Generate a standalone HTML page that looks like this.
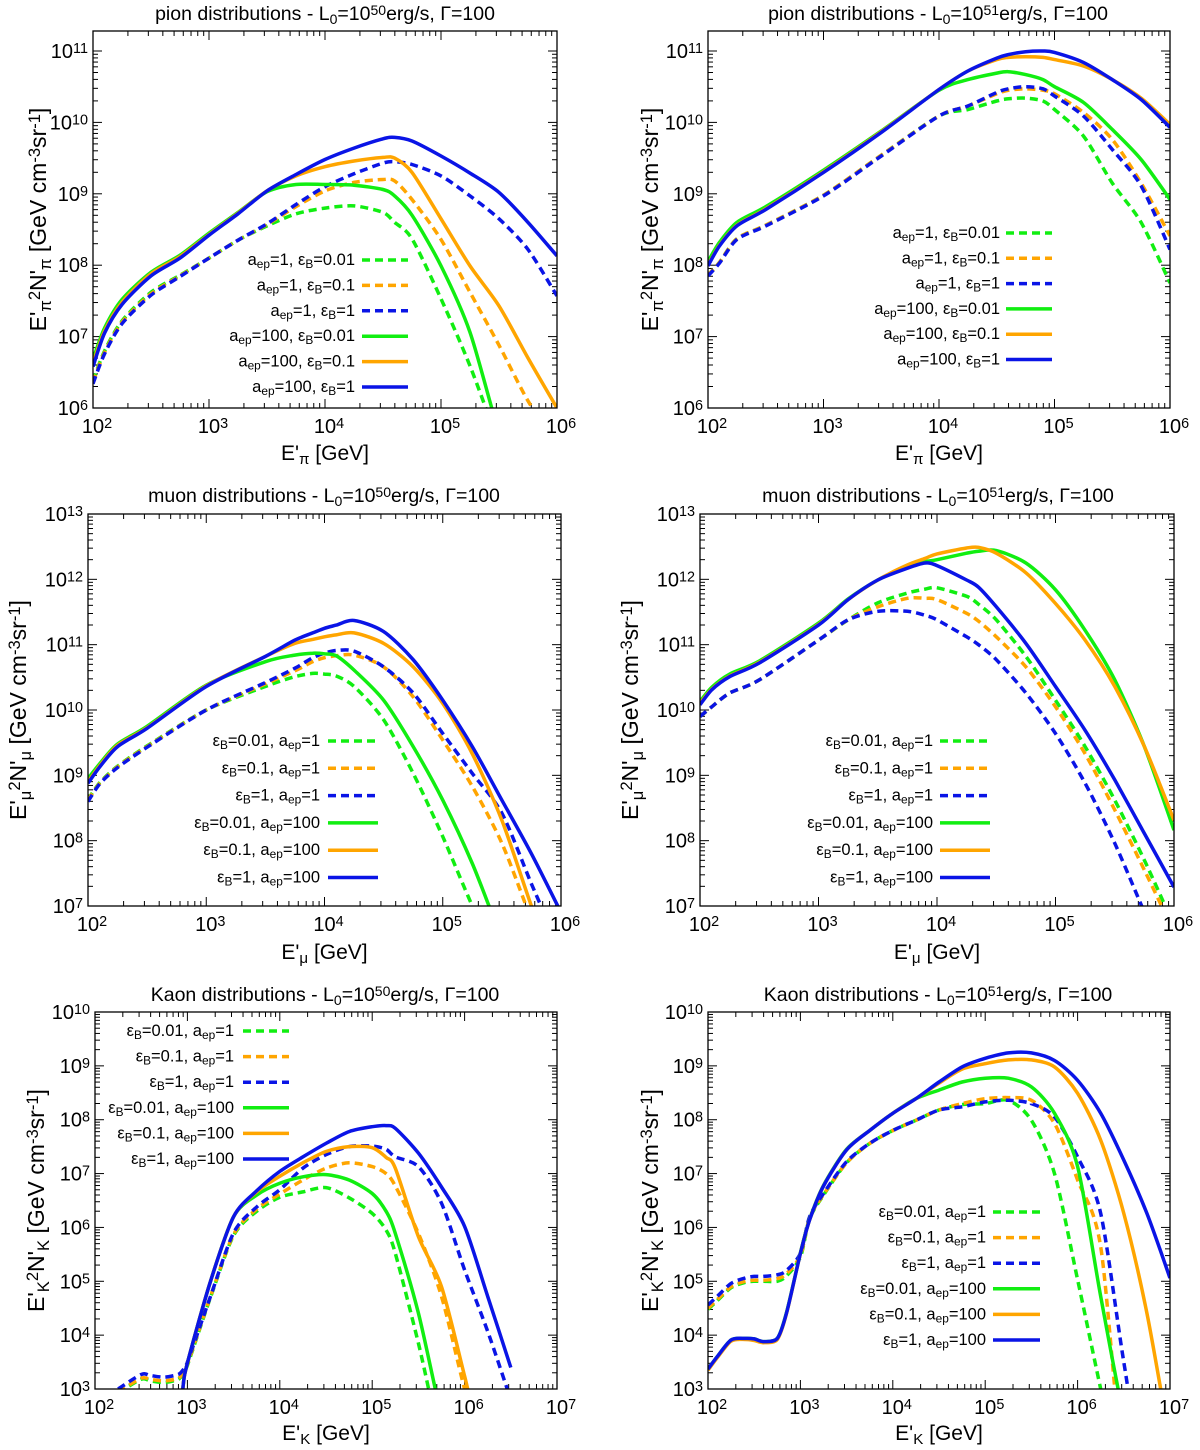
<!DOCTYPE html>
<html><head><meta charset="utf-8"><title>Pion, muon and kaon distributions</title>
<style>
html,body{margin:0;padding:0;background:#fff;}
svg{display:block;font-family:"Liberation Sans","DejaVu Sans",sans-serif;}
</style></head>
<body>
<svg id="fig" width="1200" height="1450" viewBox="0 0 1200 1450" xmlns="http://www.w3.org/2000/svg"></svg>
<script>
// ---------- DATA (log10 E, log10 of E^2 N) ----------
const pion50_x = [2,2.1,2.25,2.5,2.75,3,3.25,3.5,3.75,4,4.25,4.5,4.6,4.75,5,5.25,5.5,5.75,6];
const pion50_dGreen = [6.38,6.8,7.22,7.62,7.86,8.1,8.35,8.55,8.72,8.8,8.83,8.74,8.6,8.37,7.53,6.59,5.5,4.5,3.5];
const pion50_dOrange = [6.36,6.78,7.2,7.6,7.85,8.1,8.35,8.57,8.82,9.04,9.16,9.2,9.18,8.92,8.36,7.62,6.88,6.1,5.5];
const pion50_dBlue = [6.34,6.76,7.18,7.58,7.84,8.1,8.35,8.58,8.85,9.1,9.28,9.43,9.45,9.41,9.25,8.97,8.65,8.22,7.57];
const pion50_sGreen = [6.68,7.12,7.52,7.9,8.14,8.45,8.74,9.03,9.13,9.13,9.12,9.06,8.97,8.7,7.99,7.06,5.65,4.5,3.5];
const pion50_sOrange = [6.62,7.08,7.48,7.88,8.12,8.43,8.73,9.04,9.25,9.38,9.46,9.51,9.5,9.3,8.65,7.99,7.43,6.7,6.0];
const pion50_sBlue = [6.58,7.05,7.45,7.85,8.1,8.42,8.72,9.04,9.27,9.48,9.64,9.77,9.79,9.74,9.53,9.29,9.02,8.6,8.13];

const pion51_x = [2,2.1,2.25,2.5,3,3.5,4,4.25,4.5,4.6,4.75,4.9,5,5.25,5.5,5.75,6];
const pion51_dGreen = [7.86,8.04,8.37,8.56,8.98,9.54,10.09,10.18,10.3,10.33,10.34,10.3,10.18,9.81,9.15,8.6,7.75];
const pion51_dOrange = [7.86,8.04,8.37,8.56,8.98,9.54,10.09,10.23,10.4,10.45,10.47,10.45,10.4,10.14,9.76,9.15,8.41];
const pion51_dBlue = [7.85,8.03,8.36,8.55,8.97,9.53,10.09,10.23,10.42,10.47,10.5,10.47,10.37,10.09,9.62,9.11,8.22];
const pion51_sGreen = [8.05,8.32,8.6,8.82,9.33,9.88,10.45,10.6,10.69,10.71,10.67,10.6,10.5,10.28,9.9,9.48,8.92];
const pion51_sOrange = [8.0,8.28,8.56,8.79,9.31,9.87,10.46,10.72,10.88,10.91,10.92,10.91,10.88,10.79,10.6,10.34,9.97];
const pion51_sBlue = [7.99,8.27,8.55,8.78,9.3,9.86,10.46,10.72,10.9,10.95,10.99,11.0,10.98,10.84,10.6,10.32,9.93];

const muon50_x = [2,2.1,2.25,2.5,3,3.5,3.75,3.9,4,4.1,4.25,4.5,4.75,5,5.25,5.5,5.75,6];
const muon50_dGreen = [8.63,8.89,9.14,9.45,10.0,10.36,10.51,10.56,10.55,10.52,10.36,9.85,9.03,8.06,7.0,6.0,5.0,4.0];
const muon50_dOrange = [8.62,8.88,9.13,9.44,10.0,10.4,10.6,10.74,10.8,10.83,10.84,10.66,10.2,9.54,8.83,7.96,6.8,5.8];
const muon50_dBlue = [8.6,8.87,9.12,9.43,10.0,10.42,10.64,10.8,10.87,10.91,10.9,10.66,10.26,9.64,9.03,8.42,7.34,6.3];
const muon50_sGreen = [8.95,9.18,9.48,9.75,10.38,10.74,10.84,10.87,10.86,10.83,10.61,10.15,9.44,8.62,7.65,6.5,5.5,4.5];
const muon50_sOrange = [8.9,9.15,9.46,9.73,10.37,10.82,11.02,11.08,11.12,11.15,11.18,11.02,10.66,10.1,9.33,8.31,7.0,5.8];
const muon50_sBlue = [8.88,9.13,9.44,9.72,10.36,10.82,11.07,11.18,11.25,11.3,11.37,11.2,10.77,10.15,9.44,8.62,7.8,6.9];

const muon51_x = [2,2.1,2.25,2.5,3,3.25,3.5,3.75,3.9,4,4.25,4.35,4.5,4.75,5,5.25,5.5,5.75,6];
const muon51_dGreen = [9.9,10.05,10.26,10.46,11.07,11.38,11.64,11.79,11.85,11.87,11.74,11.62,11.38,10.82,10.15,9.44,8.62,7.7,6.7];
const muon51_dOrange = [9.9,10.05,10.26,10.46,11.07,11.38,11.58,11.71,11.71,11.69,11.48,11.36,11.12,10.66,10.05,9.33,8.47,7.55,6.6];
const muon51_dBlue = [9.9,10.05,10.26,10.46,11.07,11.38,11.51,11.51,11.45,11.38,11.12,11.0,10.77,10.26,9.64,8.88,7.96,6.9,5.8];
const muon51_sGreen = [10.13,10.35,10.55,10.75,11.33,11.7,11.99,12.2,12.27,12.3,12.4,12.43,12.44,12.25,11.84,11.22,10.46,9.44,8.16];
const muon51_sOrange = [10.1,10.32,10.52,10.73,11.31,11.69,11.99,12.22,12.32,12.39,12.48,12.49,12.4,12.1,11.63,11.07,10.36,9.44,8.31];
const muon51_sBlue = [10.08,10.31,10.51,10.72,11.3,11.69,11.99,12.17,12.25,12.21,11.99,11.88,11.58,11.02,10.36,9.69,8.93,8.11,7.29];

const kaon50_x = [2.25,2.5,2.6,2.75,2.9,2.95,3,3.25,3.5,3.75,4,4.25,4.5,4.75,5,5.15,5.25,5.5,5.75,6,6.25,6.5];
const kaon50_dGreen = [2.93,3.18,3.15,3.12,3.18,3.28,3.44,4.7,5.85,6.3,6.56,6.66,6.74,6.55,6.26,5.95,5.52,3.85,2,1,1,1];
const kaon50_dOrange = [2.95,3.2,3.18,3.15,3.2,3.3,3.46,4.72,5.87,6.34,6.62,6.88,7.1,7.2,7.13,7.0,6.77,5.89,4.72,3.0,1.5,1];
const kaon50_dBlue = [3.0,3.27,3.25,3.22,3.27,3.35,3.5,4.72,5.9,6.38,6.7,7.1,7.35,7.5,7.51,7.45,7.31,7.13,6.45,5.21,4.07,2.8];
const kaon50_sGreen = [2,2,2,2,2,3.0,3.48,5.0,6.2,6.6,6.82,6.94,6.98,6.88,6.63,6.3,5.89,4.41,2.5,1,1,1];
const kaon50_sOrange = [2,2,2,2,2,3.0,3.48,5.0,6.2,6.66,6.95,7.2,7.41,7.5,7.48,7.3,7.1,5.83,4.9,3.24,1.5,1];
const kaon50_sBlue = [2,2,2,2,2,3.0,3.48,5.0,6.2,6.68,7.04,7.31,7.56,7.78,7.87,7.89,7.84,7.38,6.75,6.02,4.72,3.4];

const kaon51_x = [2,2.1,2.25,2.4,2.5,2.6,2.75,2.85,3,3.1,3.25,3.5,3.75,4,4.25,4.5,4.75,5,5.25,5.5,5.75,6,6.25,6.5,6.75,7];
const kaon51_dGreen = [4.48,4.64,4.88,4.98,5.0,5.0,5.0,5.1,5.45,6.16,6.6,7.2,7.56,7.8,7.99,8.18,8.28,8.3,8.36,7.99,7.0,5.03,3.0,1,1,1];
const kaon51_dOrange = [4.5,4.66,4.9,5.0,5.02,5.02,5.05,5.14,5.48,6.18,6.61,7.2,7.56,7.8,7.99,8.18,8.3,8.39,8.41,8.36,7.93,6.88,5.64,1.5,1,1];
const kaon51_dBlue = [4.56,4.72,4.96,5.06,5.09,5.09,5.12,5.2,5.52,6.2,6.63,7.22,7.56,7.8,7.99,8.18,8.24,8.33,8.36,8.3,8.05,7.31,6.26,3.5,1,1];
const kaon51_sGreen = [3.37,3.6,3.91,3.94,3.93,3.88,3.94,4.42,5.53,6.15,6.78,7.45,7.8,8.12,8.39,8.55,8.7,8.77,8.77,8.61,8.12,7.13,4.72,2.5,1,1];
const kaon51_sOrange = [3.35,3.58,3.89,3.92,3.9,3.86,3.92,4.4,5.52,6.14,6.77,7.44,7.8,8.12,8.39,8.68,8.94,9.04,9.11,9.11,8.98,8.49,7.62,6.26,4.41,2.0];
const kaon51_sBlue = [3.37,3.6,3.91,3.94,3.93,3.88,3.94,4.41,5.52,6.14,6.77,7.44,7.8,8.12,8.39,8.7,8.98,9.14,9.24,9.24,9.1,8.73,8.12,7.25,6.26,5.06];

const legendPion = ["a_{ep}=1, ε_{B}=0.01","a_{ep}=1, ε_{B}=0.1","a_{ep}=1, ε_{B}=1","a_{ep}=100, ε_{B}=0.01","a_{ep}=100, ε_{B}=0.1","a_{ep}=100, ε_{B}=1"];
const legendOther = ["ε_{B}=0.01, a_{ep}=1","ε_{B}=0.1, a_{ep}=1","ε_{B}=1, a_{ep}=1","ε_{B}=0.01, a_{ep}=100","ε_{B}=0.1, a_{ep}=100","ε_{B}=1, a_{ep}=100"];

// ---------- STYLE / LAYOUT ----------
const COLORS = ["#11ee11","#ffa500","#0a14e6","#11ee11","#ffa500","#0a14e6"];
const DASHED = [true,true,true,false,false,false];
const NS = "http://www.w3.org/2000/svg";
const svg = document.getElementById('fig');

const panels = [
 {id:'pion-1e50', L:93,R:557,T:31,B:408, xmin:2,xmax:6, ymin:6,ymax:11.28, title:"pion distributions - L_{0}=10^{50}erg/s, Γ=100", tx:325,ty:20,
  xl:"E'_{π} [GeV]", xly:460, yl:"E'_{π}^{2}N'_{π} [GeV cm^{-3}sr^{-1}]", ylx:38,
  x:pion50_x, s:[pion50_dGreen,pion50_dOrange,pion50_dBlue,pion50_sGreen,pion50_sOrange,pion50_sBlue],
  leg:legendPion, legTx:355, legL0:362, legL1:408, legY:260, legDy:25.4},
 {id:'pion-1e51', L:708,R:1170,T:31,B:408, xmin:2,xmax:6, ymin:6,ymax:11.28, title:"pion distributions - L_{0}=10^{51}erg/s, Γ=100", tx:938,ty:20,
  xl:"E'_{π} [GeV]", xly:460, yl:"E'_{π}^{2}N'_{π} [GeV cm^{-3}sr^{-1}]", ylx:650,
  x:pion51_x, s:[pion51_dGreen,pion51_dOrange,pion51_dBlue,pion51_sGreen,pion51_sOrange,pion51_sBlue],
  leg:legendPion, legTx:1000, legL0:1006, legL1:1052, legY:233, legDy:25.3},
 {id:'muon-1e50', L:88,R:561,T:514,B:906, xmin:2,xmax:6, ymin:7,ymax:13, title:"muon distributions - L_{0}=10^{50}erg/s, Γ=100", tx:324,ty:502,
  xl:"E'_{μ} [GeV]", xly:959, yl:"E'_{μ}^{2}N'_{μ} [GeV cm^{-3}sr^{-1}]", ylx:18,
  x:muon50_x, s:[muon50_dGreen,muon50_dOrange,muon50_dBlue,muon50_sGreen,muon50_sOrange,muon50_sBlue],
  leg:legendOther, legTx:320, legL0:328, legL1:378, legY:741, legDy:27.3},
 {id:'muon-1e51', L:700,R:1174,T:514,B:906, xmin:2,xmax:6, ymin:7,ymax:13, title:"muon distributions - L_{0}=10^{51}erg/s, Γ=100", tx:938,ty:502,
  xl:"E'_{μ} [GeV]", xly:959, yl:"E'_{μ}^{2}N'_{μ} [GeV cm^{-3}sr^{-1}]", ylx:630,
  x:muon51_x, s:[muon51_dGreen,muon51_dOrange,muon51_dBlue,muon51_sGreen,muon51_sOrange,muon51_sBlue],
  leg:legendOther, legTx:933, legL0:940, legL1:990, legY:741, legDy:27.3},
 {id:'kaon-1e50', L:95,R:557,T:1012,B:1389, xmin:2,xmax:7, ymin:3,ymax:10, title:"Kaon distributions - L_{0}=10^{50}erg/s, Γ=100", tx:325,ty:1001,
  xl:"E'_{K} [GeV]", xly:1440, yl:"E'_{K}^{2}N'_{K} [GeV cm^{-3}sr^{-1}]", ylx:36,
  x:kaon50_x, s:[kaon50_dGreen,kaon50_dOrange,kaon50_dBlue,kaon50_sGreen,kaon50_sOrange,kaon50_sBlue],
  leg:legendOther, legTx:234, legL0:243, legL1:289, legY:1031, legDy:25.6},
 {id:'kaon-1e51', L:708,R:1170,T:1012,B:1389, xmin:2,xmax:7, ymin:3,ymax:10, title:"Kaon distributions - L_{0}=10^{51}erg/s, Γ=100", tx:938,ty:1001,
  xl:"E'_{K} [GeV]", xly:1440, yl:"E'_{K}^{2}N'_{K} [GeV cm^{-3}sr^{-1}]", ylx:650,
  x:kaon51_x, s:[kaon51_dGreen,kaon51_dOrange,kaon51_dBlue,kaon51_sGreen,kaon51_sOrange,kaon51_sBlue],
  leg:legendOther, legTx:986, legL0:993, legL1:1040, legY:1212, legDy:25.6}
];

function el(tag, attrs, parent){
  const e = document.createElementNS(NS, tag);
  for (const k in attrs) e.setAttribute(k, attrs[k]);
  if (parent) parent.appendChild(e);
  return e;
}
function rich(textEl, s){
  const re = /([_^])\{([^}]*)\}/g;
  let last = 0, m;
  while ((m = re.exec(s)) !== null){
    if (m.index > last){ const t = el('tspan', {}, textEl); t.textContent = s.slice(last, m.index); }
    const t = el('tspan', {'baseline-shift': m[1] === '_' ? '-28%' : '38%', 'font-size':'72%'}, textEl);
    t.textContent = m[2];
    const r = el('tspan', {'baseline-shift':'0'}, textEl); r.textContent = '\u200b';
    last = re.lastIndex;
  }
  if (last < s.length){ const t = el('tspan', {}, textEl); t.textContent = s.slice(last); }
}
function smoothPath(P){
  let d = 'M' + P[0][0].toFixed(1) + ',' + P[0][1].toFixed(1);
  for (let i = 0; i < P.length - 1; i++){
    const p0 = P[Math.max(0, i-1)], p1 = P[i], p2 = P[i+1], p3 = P[Math.min(P.length-1, i+2)];
    const t = 0.14;
    const c1x = p1[0] + (p2[0]-p0[0])*t, c1y = p1[1] + (p2[1]-p0[1])*t;
    const c2x = p2[0] - (p3[0]-p1[0])*t, c2y = p2[1] - (p3[1]-p1[1])*t;
    d += ' C' + c1x.toFixed(1) + ',' + c1y.toFixed(1) + ' ' + c2x.toFixed(1) + ',' + c2y.toFixed(1) + ' ' + p2[0].toFixed(1) + ',' + p2[1].toFixed(1);
  }
  return d;
}

panels.forEach((p, pi) => {
  const g = el('g', {}, svg);
  
  
  const sx = v => p.L + (v - p.xmin) / (p.xmax - p.xmin) * (p.R - p.L);
  const sy = v => p.B - (v - p.ymin) / (p.ymax - p.ymin) * (p.B - p.T);

  const tt = el('text', {x:p.tx, y:p.ty, 'text-anchor':'middle', 'font-size':19.5, fill:'#000'}, g);
  
  
  rich(tt, p.title);

  const cp = el('clipPath', {id:'clip'+pi}, g);
  el('rect', {x:p.L, y:p.T, width:p.R-p.L, height:p.B-p.T}, cp);

  const tg = el('g', {stroke:'#000','stroke-width':1}, g);
  
  
  for (let d = Math.floor(p.xmin); d <= p.xmax; d++){
    for (let k = 1; k <= 9; k++){
      const v = d + Math.log10(k);
      if (v < p.xmin - 1e-9 || v > p.xmax + 1e-9) continue;
      const len = k === 1 ? 9 : 5, X = sx(v);
      el('line', {x1:X, y1:p.B, x2:X, y2:p.B-len}, tg);
      el('line', {x1:X, y1:p.T, x2:X, y2:p.T+len}, tg);
      if (k === 1){
        const lt = el('text', {x:X+4, y:p.B+25, 'text-anchor':'middle', 'font-size':20, stroke:'none', fill:'#000'}, g);
        
        
        rich(lt, '10^{' + d + '}');
      }
    }
  }
  for (let d = Math.floor(p.ymin); d <= p.ymax; d++){
    for (let k = 1; k <= 9; k++){
      const v = d + Math.log10(k);
      if (v < p.ymin - 1e-9 || v > p.ymax + 1e-9) continue;
      const len = k === 1 ? 9 : 5, Y = sy(v);
      el('line', {x1:p.L, y1:Y, x2:p.L+len, y2:Y}, tg);
      el('line', {x1:p.R, y1:Y, x2:p.R-len, y2:Y}, tg);
      if (k === 1){
        const lt = el('text', {x:p.L-5, y:Y+7, 'text-anchor':'end', 'font-size':20, stroke:'none', fill:'#000'}, g);
        
        
        rich(lt, '10^{' + d + '}');
      }
    }
  }

  const sg = el('g', {'clip-path':'url(#clip'+pi+')', fill:'none', 'stroke-linejoin':'round'}, g);
  p.s.forEach((arr, si) => {
    const P = p.x.map((xv, i) => [sx(xv), sy(arr[i])]);
    const pl = el('path', {d:smoothPath(P), stroke:COLORS[si], 'stroke-width':3.5}, sg);
    if (DASHED[si]) pl.setAttribute('stroke-dasharray', '8,5');
    
    
  });

  const fr = el('rect', {x:p.L, y:p.T, width:p.R-p.L, height:p.B-p.T, fill:'none', stroke:'#000', 'stroke-width':1.3}, g);
  
  

  const lg = el('g', {}, g);
  
  
  p.leg.forEach((lab, i) => {
    const y = p.legY + i * p.legDy;
    const t = el('text', {x:p.legTx, y:y+5, 'text-anchor':'end', 'font-size':16.5, fill:'#000'}, lg);
    
    
    rich(t, lab);
    const ln = el('line', {x1:p.legL0, y1:y, x2:p.legL1, y2:y, stroke:COLORS[i], 'stroke-width':3.5}, lg);
    if (DASHED[i]) ln.setAttribute('stroke-dasharray', '8,5');
    
    
  });

  const xl = el('text', {x:(p.L+p.R)/2, y:p.xly, 'text-anchor':'middle', 'font-size':21, fill:'#000'}, g);
  
  
  rich(xl, p.xl);
  const cy = (p.T + p.B) / 2;
  const yl = el('text', {x:p.ylx, y:cy, 'text-anchor':'middle', 'font-size':23, fill:'#000', transform:'rotate(-90 '+p.ylx+' '+cy+')', dy:'0.35em'}, g);
  
  
  rich(yl, p.yl);
});
</script>
</body></html>
